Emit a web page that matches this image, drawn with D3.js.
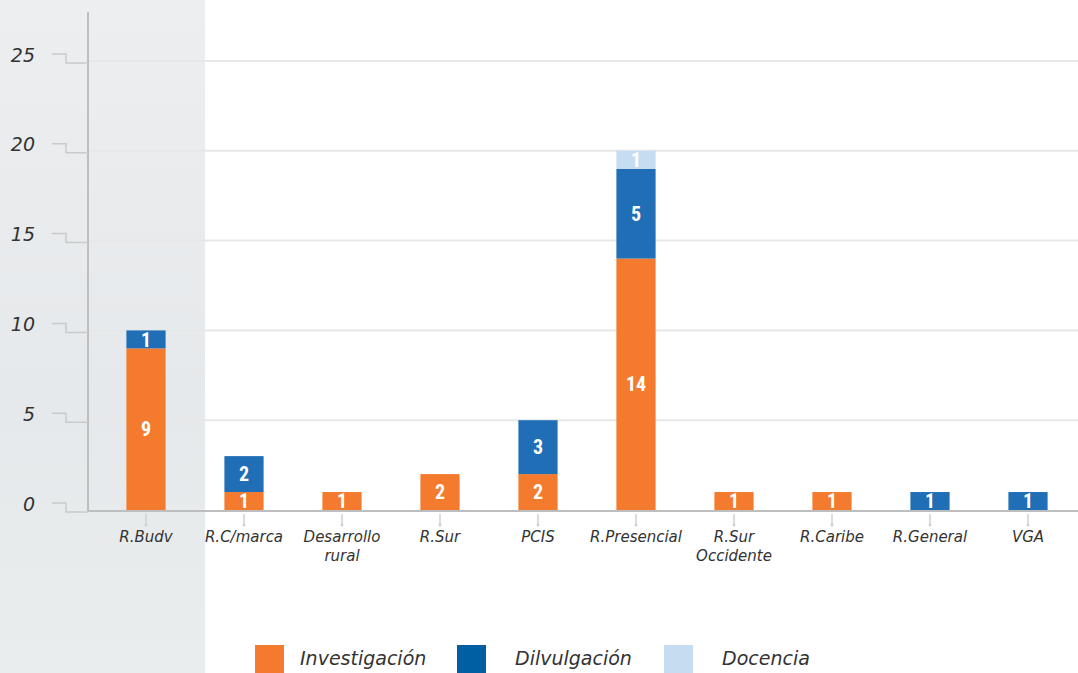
<!DOCTYPE html>
<html>
<head>
<meta charset="utf-8">
<script src="https://d3js.org/d3.v7.min.js"></script>
<style>
  body { margin: 0; background: #fff; }
  svg { display: block; }
  .tick-label { font-family: "DejaVu Sans", sans-serif; font-style: italic; fill: #333; }
  .val { font-family: "Liberation Sans Narrow", "Roboto Condensed", "Liberation Sans", sans-serif; font-weight: bold; fill: #fff; }
</style>
</head>
<body>
<svg id="chart" width="1078" height="673"></svg>
<script>
// data
var categories = ["R.Budv", "R.C/marca", "Desarrollo rural", "R.Sur", "PCIS",
                  "R.Presencial", "R.Sur Occidente", "R.Caribe", "R.General", "VGA"];
var investigacion = [9, 1, 1, 2, 2, 14, 1, 1, 0, 0];
var divulgacion   = [1, 2, 0, 0, 3, 5, 0, 0, 1, 1];
var docencia      = [0, 0, 0, 0, 0, 1, 0, 0, 0, 0];
var seriesNames = ["Investigación", "Dilvulgación", "Docencia"];
var yTicks = [0, 5, 10, 15, 20, 25];

var barColors    = ["#f47b2d", "#1f6eb6", "#c6ddf1"];
var legendColors = ["#f47b2d", "#005ea3", "#c6ddf1"];

var svg = d3.select("#chart"),
    width = +svg.attr("width"),
    height = +svg.attr("height");

// background: grey panel on the left
var defs = svg.append("defs");
var grad = defs.append("linearGradient").attr("id", "panel")
  .attr("x1", 0).attr("y1", 0).attr("x2", 0).attr("y2", 1);
grad.append("stop").attr("offset", "0%").attr("stop-color", "#eceef0");
grad.append("stop").attr("offset", "60%").attr("stop-color", "#e6e9eb");
grad.append("stop").attr("offset", "100%").attr("stop-color", "#eaedee");
svg.append("rect").attr("x", 0).attr("y", 0).attr("width", 205).attr("height", height)
  .attr("fill", "url(#panel)");

var rows = categories.map(function(c, i) {
  return { cat: c, "Investigación": investigacion[i], "Dilvulgación": divulgacion[i], "Docencia": docencia[i] };
});

var x = d3.scaleBand().domain(categories).range([97, 1077])
  .paddingInner(0.6).paddingOuter(0.3);
var y = d3.scaleLinear().domain([0, 25]).range([510, 61]);

// gridlines
svg.append("g").selectAll("line")
  .data(yTicks.filter(function(d) { return d > 0; }))
  .enter().append("line")
  .attr("x1", 88).attr("x2", width)
  .attr("y1", function(d) { return y(d); }).attr("y2", function(d) { return y(d); })
  .attr("stroke", "#e6e7e8").attr("stroke-width", 2);

// y axis with stepped ticks
var yAxis = svg.append("g");
yAxis.append("line").attr("x1", 88).attr("x2", 88).attr("y1", 12).attr("y2", 511)
  .attr("stroke", "#bcbec0").attr("stroke-width", 2);
var yt = yAxis.selectAll("g.yt").data(yTicks).enter().append("g").attr("class", "yt");
yt.append("path")
  .attr("d", function(d) { var p = y(d); return "M52," + (p - 7) + "H66V" + (p + 2) + "H88"; })
  .attr("fill", "none").attr("stroke", "#c8cacc").attr("stroke-width", 1.5);
yt.append("text").attr("class", "tick-label")
  .attr("x", 35).attr("y", function(d) { return y(d) - 6; })
  .attr("dy", "0.35em").attr("text-anchor", "end")
  .style("font-size", "19px")
  .text(function(d) { return d; });

// bars
var stack = d3.stack().keys(seriesNames);
var stacked = stack(rows);

var layers = svg.append("g").selectAll("g")
  .data(stacked).enter().append("g")
  .attr("fill", function(d, i) { return barColors[i]; });

layers.selectAll("rect")
  .data(function(d) { return d.filter(function(s) { return s[1] > s[0]; }); })
  .enter().append("rect")
  .attr("x", function(d) { return x(d.data.cat); })
  .attr("width", x.bandwidth())
  .attr("y", function(d) { return y(d[1]); })
  .attr("height", function(d) { return y(d[0]) - y(d[1]); });

layers.selectAll("text")
  .data(function(d) { return d.filter(function(s) { return s[1] > s[0]; }); })
  .enter().append("text").attr("class", "val")
  .attr("x", function(d) { return x(d.data.cat) + x.bandwidth() / 2; })
  .attr("y", function(d) { return (y(d[0]) + y(d[1])) / 2; })
  .attr("dy", "0.36em").attr("text-anchor", "middle")
  .style("font-size", "20px")
  .text(function(d) { return d[1] - d[0]; });

// baseline
svg.append("line").attr("x1", 88).attr("x2", width).attr("y1", 511).attr("y2", 511)
  .attr("stroke", "#bcbec0").attr("stroke-width", 2);

// x ticks and labels
var xt = svg.append("g").selectAll("g").data(categories).enter().append("g")
  .attr("transform", function(d) { return "translate(" + (x(d) + x.bandwidth() / 2) + ",0)"; });
xt.append("line").attr("y1", 514).attr("y2", 524)
  .attr("stroke", "#cfd1d3").attr("stroke-width", 1.5);
xt.append("circle").attr("cy", 525).attr("r", 1.5).attr("fill", "#cfd1d3");
xt.append("text").attr("class", "tick-label")
  .attr("text-anchor", "middle").style("font-size", "15px")
  .selectAll("tspan")
  .data(function(d) { return d.split(" "); })
  .enter().append("tspan")
  .attr("x", 0)
  .attr("y", function(d, i) { return 542 + i * 19; })
  .text(function(d) { return d; });

// legend
var legendX = [255, 457, 664];
var legendTextX = [300, 515, 722];
var lg = svg.append("g").selectAll("g").data(seriesNames).enter().append("g");
lg.append("rect")
  .attr("x", function(d, i) { return legendX[i]; }).attr("y", 645)
  .attr("width", 29).attr("height", 30)
  .attr("fill", function(d, i) { return legendColors[i]; });
lg.append("text").attr("class", "tick-label")
  .attr("x", function(d, i) { return legendTextX[i]; }).attr("y", 658).attr("dy", "0.35em")
  .style("font-size", "19px")
  .text(function(d) { return d; });
</script>
</body>
</html>
